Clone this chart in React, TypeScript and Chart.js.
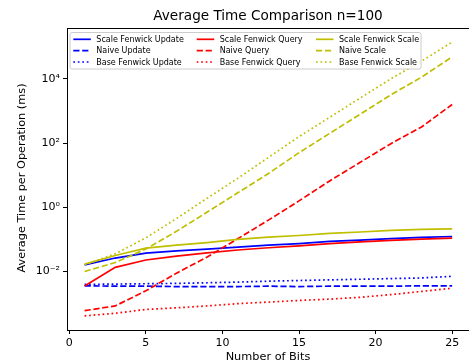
import React, { useEffect, useRef } from "react";
import { Chart, registerables } from "chart.js";

Chart.register(...registerables);

const bits = [1, 3, 5, 7, 9, 11, 13, 15, 17, 19, 21, 23, 25];

const scaleFenwickUpdate = [0.0162, 0.0263, 0.0372, 0.0437, 0.0501, 0.0575, 0.0661, 0.0741, 0.0871, 0.0955, 0.105, 0.115, 0.123];
const naiveUpdate = [0.0036, 0.0035, 0.0035, 0.0034, 0.0034, 0.0034, 0.0035, 0.0034, 0.0035, 0.0035, 0.0035, 0.0036, 0.0036];
const baseFenwickUpdate = [0.00398, 0.00407, 0.00417, 0.00427, 0.00447, 0.00468, 0.00501, 0.00525, 0.0055, 0.00575, 0.00603, 0.00631, 0.00708];
const scaleFenwickQuery = [0.00355, 0.0135, 0.0229, 0.0302, 0.038, 0.0468, 0.055, 0.063, 0.0741, 0.0832, 0.0933, 0.102, 0.11];
const naiveQuery = [0.000603, 0.000851, 0.00251, 0.00891, 0.0282, 0.105, 0.398, 1.58, 6.61, 25.1, 95.5, 316, 1585];
const baseFenwickQuery = [0.000417, 0.000501, 0.000661, 0.000741, 0.000851, 0.001, 0.00112, 0.00126, 0.00138, 0.00158, 0.00191, 0.0024, 0.00302];
const scaleFenwickScale = [0.017, 0.0316, 0.0537, 0.0661, 0.0794, 0.1, 0.117, 0.132, 0.155, 0.17, 0.19, 0.204, 0.214];
const naiveScale = [0.01, 0.0191, 0.0501, 0.178, 0.708, 2.82, 11.2, 50.1, 200, 794, 3162, 11220, 47860];
const baseFenwickScale = [0.0162, 0.0355, 0.112, 0.447, 1.91, 7.94, 35.5, 158, 631, 2512, 10000, 35480, 138000];

const xTicks = [0, 5, 10, 15, 20, 25];
const yTicks = [1e-2, 1, 1e2, 1e4];
const yTickLabels = ["10\u207B\u00B2", "10\u2070", "10\u00B2", "10\u2074"];

const titleText = "Average Time Comparison n=100";
const xLabel = "Number of Bits";
const yLabel = "Average Time per Operation (ms)";

const BLUE = "#0000ff";
const RED = "#ff0000";
const YEL = "#bfbf00";
const SOLID: number[] = [];
const DASH = [6.2, 2.7];
const DOT = [1.7, 2.8];

const seriesDefs = [
  { label: "Scale Fenwick Update", data: scaleFenwickUpdate, color: BLUE, dash: SOLID },
  { label: "Naive Update", data: naiveUpdate, color: BLUE, dash: DASH },
  { label: "Base Fenwick Update", data: baseFenwickUpdate, color: BLUE, dash: DOT },
  { label: "Scale Fenwick Query", data: scaleFenwickQuery, color: RED, dash: SOLID },
  { label: "Naive Query", data: naiveQuery, color: RED, dash: DASH },
  { label: "Base Fenwick Query", data: baseFenwickQuery, color: RED, dash: DOT },
  { label: "Scale Fenwick Scale", data: scaleFenwickScale, color: YEL, dash: SOLID },
  { label: "Naive Scale", data: naiveScale, color: YEL, dash: DASH },
  { label: "Base Fenwick Scale", data: baseFenwickScale, color: YEL, dash: DOT },
];

const FONT = "DejaVu Sans";
const LW = 1.7;

const decorPlugin = {
  id: "decor",
  afterDraw(chart: any) {
    const ctx = chart.ctx;
    const area = chart.chartArea;
    ctx.save();
    // top spine
    ctx.strokeStyle = "#000";
    ctx.lineWidth = 1;
    ctx.beginPath();
    ctx.moveTo(area.left, area.top + 0.5);
    ctx.lineTo(area.right, area.top + 0.5);
    ctx.stroke();

    // title
    ctx.fillStyle = "#000";
    ctx.font = `13.6px '${FONT}'`;
    ctx.textAlign = "center";
    ctx.textBaseline = "middle";
    ctx.fillText(titleText, 268, 16);

    // axis labels
    ctx.font = `11.3px '${FONT}'`;
    ctx.fillText(xLabel, 268, 357);
    ctx.save();
    ctx.translate(22.5, 178);
    ctx.rotate(-Math.PI / 2);
    ctx.fillText(yLabel, 0, 0);
    ctx.restore();

    // legend
    const lx = 70, ly = 32.5, lw = 351, lh = 36.5, r = 2;
    ctx.beginPath();
    ctx.moveTo(lx + r, ly);
    ctx.lineTo(lx + lw - r, ly);
    ctx.quadraticCurveTo(lx + lw, ly, lx + lw, ly + r);
    ctx.lineTo(lx + lw, ly + lh - r);
    ctx.quadraticCurveTo(lx + lw, ly + lh, lx + lw - r, ly + lh);
    ctx.lineTo(lx + r, ly + lh);
    ctx.quadraticCurveTo(lx, ly + lh, lx, ly + lh - r);
    ctx.lineTo(lx, ly + r);
    ctx.quadraticCurveTo(lx, ly, lx + r, ly);
    ctx.closePath();
    ctx.fillStyle = "rgba(255,255,255,0.8)";
    ctx.fill();
    ctx.strokeStyle = "#cccccc";
    ctx.lineWidth = 1;
    ctx.stroke();

    const colX = [73.3, 196.7, 316];
    const rowY = [39.3, 50.6, 62];
    ctx.font = `8px '${FONT}'`;
    ctx.textAlign = "left";
    ctx.textBaseline = "middle";
    seriesDefs.forEach((s, i) => {
      const c = Math.floor(i / 3);
      const rr = i % 3;
      const x0 = colX[c];
      const y0 = rowY[rr];
      ctx.strokeStyle = s.color;
      ctx.lineWidth = LW;
      ctx.setLineDash(s.dash);
      ctx.beginPath();
      ctx.moveTo(x0, y0);
      ctx.lineTo(x0 + 17.5, y0);
      ctx.stroke();
      ctx.setLineDash([]);
      ctx.fillStyle = "#000";
      ctx.fillText(s.label, x0 + 23, y0 + 0.5);
    });
    ctx.restore();
  },
};

export default function App() {
  const ref = useRef<HTMLCanvasElement>(null);
  useEffect(() => {
    document.body.style.margin = "0";
    const canvas = ref.current!;
    const chart = new Chart(canvas, {
      type: "line",
      data: {
        datasets: seriesDefs.map((s, i) => ({
          label: s.label,
          data: bits.map((b, j) => ({ x: b, y: s.data[j] })),
          borderColor: s.color,
          backgroundColor: s.color,
          borderDash: s.dash,
          borderWidth: LW,
          pointRadius: 0,
          tension: 0,
          fill: false,
          order: seriesDefs.length - i,
        })),
      },
      options: {
        animation: false,
        responsive: false,
        devicePixelRatio: 1,
        layout: { padding: { top: 28, right: 0, bottom: 0, left: 0 } },
        plugins: {
          legend: { display: false },
          title: { display: false },
          tooltip: { enabled: false },
        },
        scales: {
          x: {
            type: "linear",
            min: -0.15,
            max: 26.1,
            afterBuildTicks: (scale: any) => {
              scale.ticks = xTicks.map((v) => ({ value: v }));
            },
            afterFit: (scale: any) => {
              scale.height = 34;
            },
            ticks: {
              autoSkip: false,
              maxRotation: 0,
              color: "#000",
              font: { family: FONT, size: 11 },
              padding: 3,
              callback: (v: any) => String(v),
            },
            grid: {
              display: true,
              drawOnChartArea: false,
              drawTicks: true,
              tickLength: 4,
              color: "#000",
            },
            border: { display: true, color: "#000", width: 1 },
          },
          y: {
            type: "logarithmic",
            min: Math.pow(10, -3.82),
            max: Math.pow(10, 5.58),
            afterBuildTicks: (scale: any) => {
              scale.ticks = yTicks.map((v) => ({ value: v }));
            },
            afterFit: (scale: any) => {
              scale.width = 67;
            },
            ticks: {
              autoSkip: false,
              color: "#000",
              font: { family: FONT, size: 11 },
              padding: 3,
              callback: (v: any) => {
                const idx = yTicks.indexOf(Number(v));
                return idx >= 0 ? yTickLabels[idx] : "";
              },
            },
            grid: {
              display: true,
              drawOnChartArea: false,
              drawTicks: true,
              tickLength: 4,
              color: "#000",
            },
            border: { display: true, color: "#000", width: 1 },
          },
        },
      },
      plugins: [decorPlugin],
    } as any);
    return () => chart.destroy();
  }, []);
  return (
    <div style={{ position: "absolute", left: 0, top: 0, width: 469, height: 364, background: "#fff" }}>
      <canvas ref={ref} width={469} height={364} style={{ width: 469, height: 364, display: "block" }} />
    </div>
  );
}
